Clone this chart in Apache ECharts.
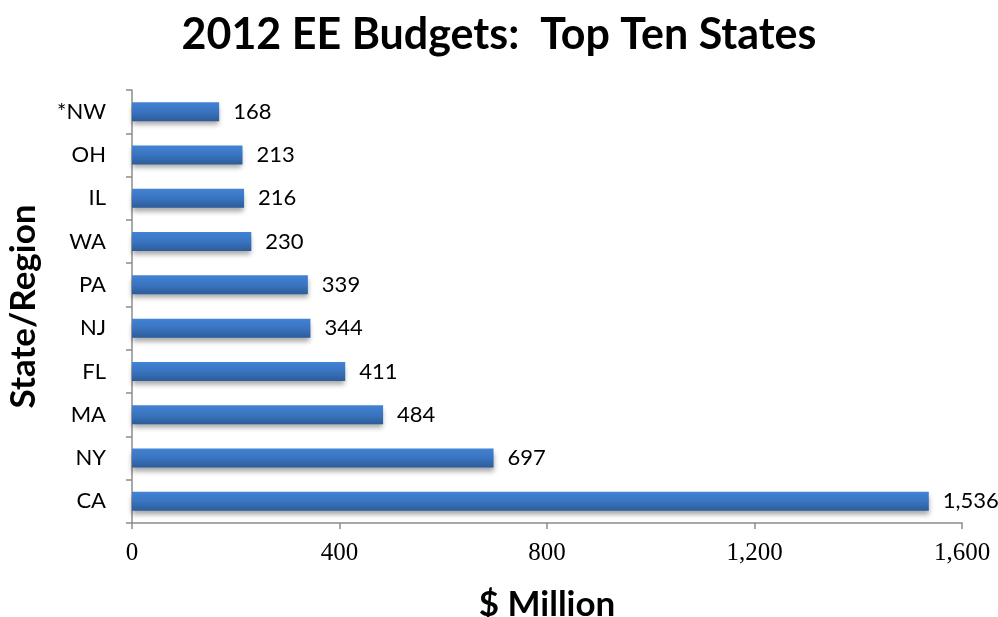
<!DOCTYPE html>
<html>
<head>
<meta charset="utf-8">
<script src="https://cdn.jsdelivr.net/npm/echarts@6/dist/echarts.min.js"></script>
<style>
  html, body { margin: 0; padding: 0; background: #fff; }
  #chart { width: 998px; height: 617px; }
</style>
</head>
<body>
<div id="chart"></div>
<script>
// States/regions, bottom to top as drawn on the category axis
const states = ['CA', 'NY', 'MA', 'FL', 'NJ', 'PA', 'WA', 'IL', 'OH', '*NW'];
// 2012 energy-efficiency budgets, $ million
const budgets = [1536, 697, 484, 411, 344, 339, 230, 216, 213, 168];
// Value axis ticks
const xTicks = [0, 400, 800, 1200, 1600];

const sans = 'Lato, "Open Sans", sans-serif';
const serif = '"Liberation Serif", "DejaVu Serif", serif';

const chart = echarts.init(document.getElementById('chart'));
chart.setOption({
  backgroundColor: '#ffffff',
  animation: false,
  title: {
    text: '2012 EE Budgets:  Top Ten States',
    left: 'center',
    top: 9,
    textStyle: { fontFamily: sans, fontWeight: 'bold', fontSize: 43, color: '#000' }
  },
  grid: { left: 132, right: 36, top: 90, bottom: 94, containLabel: false, outerBoundsMode: 'none' },
  xAxis: {
    type: 'value',
    min: xTicks[0],
    max: xTicks[xTicks.length - 1],
    interval: xTicks[1] - xTicks[0],
    name: '$ Million',
    nameLocation: 'middle',
    nameGap: 64,
    nameTextStyle: { fontFamily: sans, fontWeight: 'bold', fontSize: 35, color: '#000' },
    axisLine: { show: true, lineStyle: { color: '#8c8c8c', width: 1.5 } },
    axisTick: { show: true, length: 6, lineStyle: { color: '#8c8c8c', width: 1.5 } },
    axisLabel: {
      fontFamily: serif, fontSize: 25, color: '#000', margin: 18,
      formatter: v => v.toLocaleString('en-US')
    },
    splitLine: { show: false }
  },
  yAxis: {
    type: 'category',
    data: states,
    name: 'State/Region',
    nameLocation: 'middle',
    nameGap: 91,
    nameRotate: 90,
    nameTextStyle: { fontFamily: sans, fontWeight: 'bold', fontSize: 35, color: '#000' },
    axisLine: { show: true, lineStyle: { color: '#8c8c8c', width: 1.5 } },
    axisTick: { show: true, length: 6, alignWithLabel: false, lineStyle: { color: '#8c8c8c', width: 1.5 } },
    axisLabel: { fontFamily: sans, fontSize: 22, color: '#000', margin: 26 }
  },
  series: [{
    type: 'bar',
    data: budgets,
    barWidth: 19,
    itemStyle: {
      color: new echarts.graphic.LinearGradient(0, 0, 0, 1, [
        { offset: 0, color: '#4283d4' },
        { offset: 0.5, color: '#3a74c0' },
        { offset: 1, color: '#2c5c98' }
      ]),
      shadowColor: 'rgba(0,0,0,0.35)',
      shadowBlur: 5,
      shadowOffsetY: 4
    },
    label: {
      show: true,
      position: 'right',
      distance: 14,
      fontFamily: sans,
      fontSize: 22,
      color: '#000',
      formatter: p => p.value.toLocaleString('en-US')
    }
  }]
});
</script>
</body>
</html>
